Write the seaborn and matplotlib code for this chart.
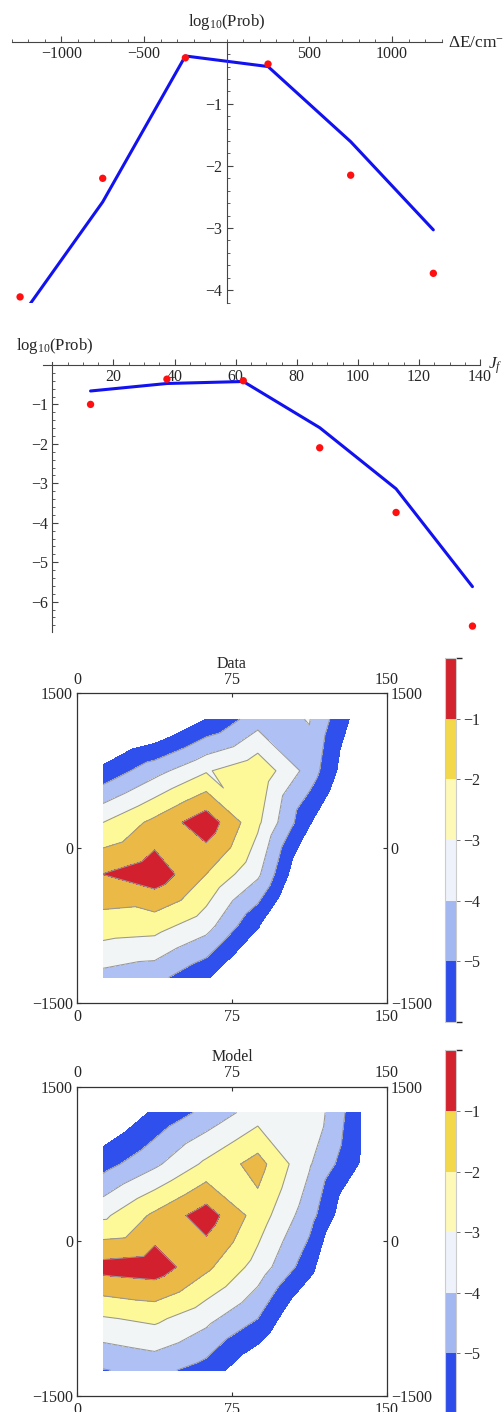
import numpy as np
import seaborn as sns
import matplotlib.pyplot as plt
import matplotlib.tri as mtri
from matplotlib.colors import ListedColormap, BoundaryNorm
from matplotlib.cm import ScalarMappable
from matplotlib.ticker import MultipleLocator, FixedLocator

sns.set_theme(style="white")
plt.rcParams['font.family'] = ['Liberation Serif', 'DejaVu Serif']
plt.rcParams['mathtext.fontset'] = 'custom'
plt.rcParams['mathtext.rm'] = 'Liberation Serif'
plt.rcParams['mathtext.it'] = 'Liberation Serif:italic'
plt.rcParams['mathtext.bf'] = 'Liberation Serif:bold'

# --- energy transfer marginal (log10 probability) ---
dE = [-1250, -750, -250, 250, 750, 1250]
dE_data = [-4.11, -2.20, -0.26, -0.36, -2.15, -3.73]
dE_model = [-4.45, -2.58, -0.23, -0.40, -1.61, -3.03]

# --- final rotational state marginal ---
jf = [12.5, 37.5, 62.5, 87.5, 112.5, 137.5]
jf_data = [-1.00, -0.36, -0.40, -2.10, -3.74, -6.62]
jf_model = [-0.66, -0.47, -0.42, -1.59, -3.14, -5.62]

# --- joint distributions, rows from dE = +1250 (top) down to -1250, columns along jf ---
joint_data = [
    [-8.2, -7.45, -6.0, -4.47, -3.95, -6.6],
    [-5.72, -4.37, -3.1, -2.24, -4.4, -7.4],
    [-3.0, -1.73, -0.35, -2.8, -5.9, -8.5],
    [-0.98, -0.35, -2.0, -3.8, -7.5, -9.0],
    [-2.47, -2.6, -3.6, -5.9, -9.0, -9.5],
    [-4.33, -4.68, -5.85, -8.0, -9.5, -10.0],
]
joint_model = [
    [-7.2, -5.83, -4.72, -3.5, -3.2, -5.8],
    [-5.4, -4.2, -2.8, -1.6, -3.9, -6.1],
    [-3.2, -1.8, -0.48, -2.45, -4.6, -7.5],
    [-0.62, -0.42, -1.78, -3.4, -5.6, -9.0],
    [-3.1, -2.78, -3.7, -5.0, -7.5, -10.0],
    [-5.05, -4.7, -5.4, -7.0, -9.0, -11.0],
]

levels = [-6, -5, -4, -3, -2, -1, 0]
fill_colors = ['#2F50EC', '#AEC0F4', '#F2F5F5', '#FDF898', '#EBB945', '#D2202E']
bar_colors = ['#2E4CEA', '#A3B7F0', '#EEF2FB', '#FEF9B6', '#F3D84B', '#D2232E']

W, H = 504, 1412
fig = plt.figure(figsize=(W / 100, H / 100), dpi=100)


def px_axes(l, t, r, b):
    return fig.add_axes([l / W, 1 - b / H, (r - l) / W, (b - t) / H])


def line_panel(ax, x, model, data):
    sns.lineplot(x=x, y=model, ax=ax, color='#1212F0', lw=2.2, estimator=None, sort=False)
    sns.scatterplot(x=x, y=data, ax=ax, color='#FF1010', s=28, edgecolor='none', zorder=4, clip_on=False)
    for side in ['top', 'right']:
        ax.spines[side].set_visible(False)
    ax.spines['left'].set_position(('data', 0))
    ax.spines['bottom'].set_position(('data', 0))
    for side in ['left', 'bottom']:
        ax.spines[side].set_color('#444444')
        ax.spines[side].set_linewidth(0.8)
    ax.tick_params(which='both', direction='in', bottom=True, left=True, color='#444444',
                   labelsize=11.5, pad=3)
    ax.tick_params(which='major', length=4, width=0.8)
    ax.tick_params(which='minor', length=2, width=0.6)
    ax.set_facecolor('none')


# panel 1: energy transfer
ax1 = px_axes(11.8, 41.7, 441.6, 302.5)
line_panel(ax1, dE, dE_model, dE_data)
ax1.set_xlim(-1300, 1300)
ax1.set_ylim(-4.2, 0)
ax1.xaxis.set_major_locator(FixedLocator([-1000, -500, 500, 1000]))
ax1.xaxis.set_minor_locator(MultipleLocator(100))
ax1.yaxis.set_major_locator(FixedLocator([-4, -3, -2, -1]))
ax1.yaxis.set_minor_locator(MultipleLocator(0.2))
fig.text(227 / W, 1 - 22 / H, r'log$_{10}$(Prob)', ha='center', va='center', fontsize=12)
fig.text(448 / W, 1 - 43 / H, r'$\Delta$E/cm$^{-1}$', ha='left', va='center', fontsize=12.5)

# panel 2: final rotational state
ax2 = px_axes(43.2, 361.8, 480.1, 632.0)
line_panel(ax2, jf, jf_model, jf_data)
ax2.set_xlim(-3, 140)
ax2.set_ylim(-6.77, 0.08)
ax2.xaxis.set_major_locator(FixedLocator([20, 40, 60, 80, 100, 120, 140]))
ax2.xaxis.set_minor_locator(MultipleLocator(5))
ax2.yaxis.set_major_locator(FixedLocator([-6, -5, -4, -3, -2, -1]))
ax2.yaxis.set_minor_locator(MultipleLocator(0.2))
fig.text(15.5 / W, 1 - 346 / H, r'log$_{10}$(Prob)', ha='left', va='center', fontsize=12)
fig.text(488 / W, 1 - 366 / H, r'$J_f$', ha='left', va='center', fontsize=12.5)

# triangulation of the (jf, dE) grid, diagonals from upper left to lower right
X, Y = np.meshgrid(jf, dE)
nx, ny = len(jf), len(dE)
tris = []
for j in range(ny - 1):
    for i in range(nx - 1):
        bl, br = j * nx + i, j * nx + i + 1
        tl, tr = (j + 1) * nx + i, (j + 1) * nx + i + 1
        tris += [[tl, tr, br], [tl, br, bl]]
tri = mtri.Triangulation(X.ravel(), Y.ravel(), tris)


def contour_panel(ax, cax, grid, title):
    z = np.array(grid)[::-1].ravel()
    ax.tricontourf(tri, z, levels=levels, colors=fill_colors)
    ax.tricontour(tri, z, levels=levels[1:-1], colors='#979797', linewidths=0.75,
                  linestyles='solid')
    ax.set_xlim(0, 150)
    ax.set_ylim(-1500, 1500)
    ax.set_xticks([0, 75, 150])
    ax.set_yticks([-1500, 0, 1500])
    ax.tick_params(direction='in', top=True, bottom=True, left=True, right=True,
                   labeltop=True, labelright=True, length=3, width=0.8,
                   color='#333333', labelsize=11.5)
    ax.tick_params(axis='x', pad=4)
    ax.tick_params(axis='y', pad=3)
    for s in ax.spines.values():
        s.set_color('#333333')
        s.set_linewidth(0.9)
    ax.grid(False)
    ax.text(0.5, 1.095, title, transform=ax.transAxes, ha='center', va='center', fontsize=11.5)

    sm = ScalarMappable(norm=BoundaryNorm(levels, len(bar_colors)), cmap=ListedColormap(bar_colors))
    cb = fig.colorbar(sm, cax=cax, ticks=[-5, -4, -3, -2, -1])
    cb.outline.set_edgecolor('#CCCCCC')
    cb.outline.set_linewidth(0.8)
    cax.tick_params(length=3, width=0.7, color='#777777', labelsize=11.5, pad=2, direction='out')


ax3 = px_axes(77.3, 693.3, 386.7, 1003.3)
cax3 = px_axes(445, 658.3, 456, 1021.7)
contour_panel(ax3, cax3, joint_data, 'Data')

ax4 = px_axes(77.3, 1086.7, 386.7, 1396.0)
cax4 = px_axes(445, 1050.3, 456, 1414.0)
contour_panel(ax4, cax4, joint_model, 'Model')

fig.savefig('out.png', dpi=100)
